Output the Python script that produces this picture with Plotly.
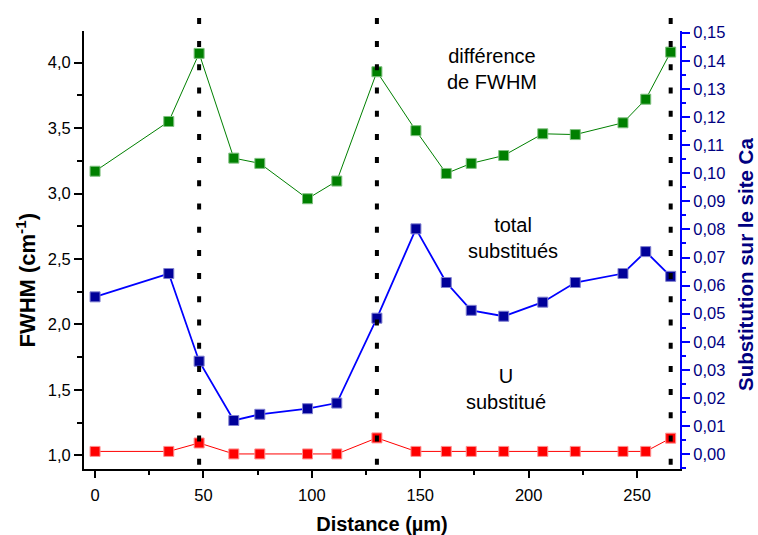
import plotly.graph_objects as go

# ---- data ----
distance = [0, 34, 48, 64, 76, 98, 111.5, 130, 148, 162, 173.5, 188.5, 206.5, 221.5, 243.5, 254, 265.5]
fwhm_diff = [3.17, 3.55, 4.07, 3.27, 3.23, 2.96, 3.095, 3.93, 3.48, 3.153, 3.23, 3.29, 3.456, 3.45, 3.54, 3.72, 4.08]
total_subst = [0.0560, 0.0643, 0.0331, 0.0120, 0.0142, 0.0162, 0.0182, 0.0484, 0.0802, 0.0611,
               0.0512, 0.0491, 0.0541, 0.0611, 0.0643, 0.0721, 0.0633]
u_subst = [0.0010, 0.0010, 0.0040, 0.0001, 0.0001, 0.0001, 0.0001, 0.0058, 0.0010, 0.0010,
           0.0010, 0.0010, 0.0010, 0.0010, 0.0010, 0.0010, 0.0057]
boundaries = [48, 130, 265.5]

x_ticks = [0, 50, 100, 150, 200, 250]

FONT = "Liberation Sans, Arial, sans-serif"

fig = go.Figure()

fig.add_trace(go.Scatter(
    x=distance, y=fwhm_diff, mode="lines+markers", name="différence de FWHM",
    line=dict(color="#008000", width=1),
    marker=dict(symbol="square", size=10, color="#008000", line=dict(color="#7fc07f", width=1)),
    yaxis="y"))

fig.add_trace(go.Scatter(
    x=distance, y=total_subst, mode="lines+markers", name="total substitués",
    line=dict(color="#0000FF", width=1.8),
    marker=dict(symbol="square", size=10, color="#000099", line=dict(color="#7f7fd0", width=1)),
    yaxis="y2"))

fig.add_trace(go.Scatter(
    x=distance, y=u_subst, mode="lines+markers", name="U substitué",
    line=dict(color="#FF0000", width=1),
    marker=dict(symbol="square", size=10, color="#FF0000", line=dict(color="#ff9090", width=1)),
    yaxis="y2"))

shapes = []
for b in boundaries:
    shapes.append(dict(type="line", xref="x", yref="paper", x0=b, x1=b, y0=0.0098, y1=1.043,
                       line=dict(color="black", width=4, dash="6px,17.2px"), layer="above"))

annotations = [
    dict(text="différence<br>de FWHM", x=183, y=3.95, xref="x", yref="y", showarrow=False,
         font=dict(size=20, color="black", family=FONT), align="center"),
    dict(text="total<br>substitués", x=192.8, y=2.657, xref="x", yref="y", showarrow=False,
         font=dict(size=20, color="black", family=FONT), align="center"),
    dict(text="U<br>substitué", x=189.5, y=1.507, xref="x", yref="y", showarrow=False,
         font=dict(size=20, color="black", family=FONT), align="center"),
    dict(text="<b>FWHM (cm<sup>-1</sup>)</b>", x=-0.098, y=0.4316, xref="paper", yref="paper",
         xanchor="center", yanchor="middle",
         showarrow=False, textangle=-90, font=dict(size=22, color="black", family=FONT)),
    dict(text="<b>Substitution sur le site Ca</b>", x=1.111, y=0.466, xref="paper", yref="paper",
         xanchor="center", yanchor="middle",
         showarrow=False, textangle=-90, font=dict(size=20.5, color="#000080", family=FONT)),
]

fig.update_layout(
    width=758, height=535,
    margin=dict(l=84, r=78, t=31, b=66),
    paper_bgcolor="white", plot_bgcolor="white",
    separators=", ",
    showlegend=False,
    font=dict(family=FONT, size=16.5, color="black"),
    shapes=shapes,
    annotations=annotations,
    xaxis=dict(
        range=[-5.1, 269.8], tickvals=x_ticks, ticks="outside", ticklen=7, tickwidth=1.5,
        tickcolor="black", showline=True, linecolor="black", linewidth=2,
        showgrid=False, zeroline=False, ticklabelstandoff=3, automargin=False,
        minor=dict(dtick=25, tick0=0, ticks="outside", ticklen=4, tickwidth=1.5, tickcolor="black"),
        title=dict(text="<b>Distance (µm)</b>", font=dict(size=20, family=FONT), standoff=22),
        tickfont=dict(size=16.5, family=FONT),
    ),
    yaxis=dict(
        range=[0.896, 4.241], tick0=1, dtick=0.5, tickformat=".1f",
        ticks="outside", ticklen=8, tickwidth=1.5, tickcolor="black",
        showline=True, linecolor="black", linewidth=2, automargin=False,
        showgrid=False, zeroline=False,
        minor=dict(dtick=0.25, tick0=1, ticks="outside", ticklen=5, tickwidth=1.5, tickcolor="black"),
        tickfont=dict(size=16.5, family=FONT),
    ),
    yaxis2=dict(
        overlaying="y", side="right",
        range=[-0.00526, 0.1506], tick0=0, dtick=0.01, tickformat=".2f",
        ticks="outside", ticklen=8, tickwidth=1.5, tickcolor="#0000FF",
        showline=True, linecolor="#0000FF", linewidth=2, automargin=False,
        showgrid=False, zeroline=False,
        minor=dict(dtick=0.005, tick0=0, ticks="outside", ticklen=4, tickwidth=1.5, tickcolor="#0000FF"),
        tickfont=dict(size=16.5, family=FONT, color="#000080"),
    ),
)

fig.write_html("out.html", config={"displayModeBar": False},
               post_script="document.body.style.margin='0px';")
